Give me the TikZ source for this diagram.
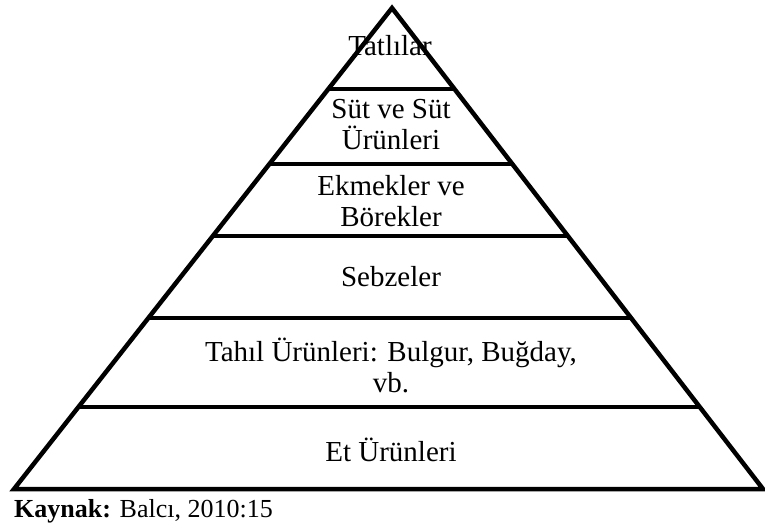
\documentclass[tikz,border=0pt]{standalone}
\usepackage{fontspec}
\setmainfont{Liberation Serif}
\usetikzlibrary{calc}
\begin{document}
\begin{tikzpicture}[x=1pt,y=-1pt,
  edge/.style={line width=4.5pt,line join=miter,line cap=butt},
  tier/.style={line width=4.5pt},
  tiertext/.style={font=\fontsize{29}{31}\selectfont,align=center,inner sep=0pt}]
  \useasboundingbox (0,0) rectangle (765,523);
  % corners of the pyramid
  \coordinate (A) at (392,8);
  \coordinate (L) at (14,489);
  \coordinate (R) at (763,489);
  % dividing lines between the tiers
  \foreach \t/\n in {0.8316/1,0.6757/2,0.5260/3,0.3555/4,0.1705/5}{
    \coordinate (l\n) at ($(L)!\t!(A)$);
    \coordinate (r\n) at ($(R)!\t!(A)$);
  }
  % tier labels
  \node[tiertext,anchor=base] (tat) at (390,55) {Tatlılar};
  \node[tiertext] (sut) at (391,125) {Süt ve Süt\\Ürünleri};
  \node[tiertext] (ekm) at (391,201) {Ekmekler ve\\Börekler};
  \node[tiertext,anchor=base] (seb) at (391,286) {Sebzeler};
  \node[tiertext] (tah) at (391,365) {Tahıl Ürünleri: Bulgur, Buğday,\\vb.};
  \node[tiertext,anchor=base] (et) at (391,461) {Et Ürünleri};
  % outline and tiers
  \draw[edge] (A) -- (L) -- (R) -- cycle;
  \foreach \n in {1,...,5}{\draw[tier] (l\n) -- (r\n);}
  % source line
  \node[font=\fontsize{26}{28}\selectfont,anchor=base west,inner sep=0pt] (src) at (14,517) {\textbf{Kaynak:} Balcı, 2010:15};
\end{tikzpicture}
\end{document}
